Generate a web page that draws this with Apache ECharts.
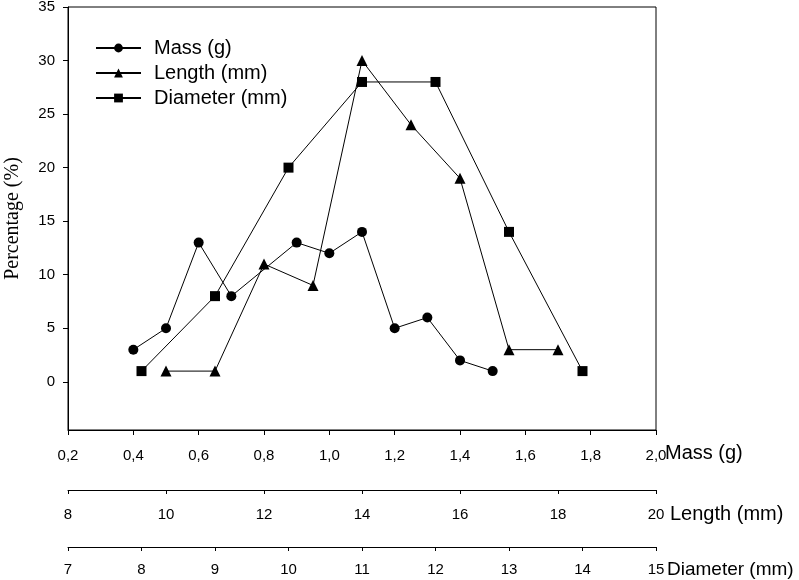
<!DOCTYPE html>
<html>
<head>
<meta charset="utf-8">
<script src="https://cdn.jsdelivr.net/npm/echarts@6/dist/echarts.min.js"></script>
<style>
  html, body { margin: 0; padding: 0; background: #fff; }
  #chart { width: 799px; height: 580px; }
</style>
</head>
<body>
<div id="chart"></div>
<script>
// values
const massX = [0.4, 0.5, 0.6, 0.7, 0.9, 1.0, 1.1, 1.2, 1.3, 1.4, 1.5];
const massPct = [3, 5, 13, 8, 13, 12, 14, 5, 6, 2, 1];

const lengthX = [10, 11, 12, 13, 14, 15, 16, 17, 18];
const lengthPct = [1, 1, 11, 9, 30, 24, 19, 3, 3];

const diameterX = [8, 9, 10, 11, 12, 13, 14];
const diameterPct = [1, 8, 20, 28, 28, 14, 1];

const yTicks = [0, 5, 10, 15, 20, 25, 30, 35];

const FONT = '"Liberation Sans", Arial, sans-serif';
const INK = '#000';

const chart = echarts.init(document.getElementById('chart'));

const pairs = (xs, ys) => xs.map((x, i) => [x, ys[i]]);

const nameStyle = (top, size) => ({
  fontFamily: FONT, fontSize: size || 20, color: INK,
  align: 'left', verticalAlign: 'top', padding: [top, 0, 0, 0]
});

const baseAxis = {
  type: 'value',
  position: 'bottom',
  axisLine: { show: true, onZero: false, lineStyle: { color: INK, width: 1 } },
  axisTick: { show: true, inside: false, length: 5, lineStyle: { color: INK } },
  splitLine: { show: false },
  nameLocation: 'end',
  nameMoveOverlap: false
};

const lineSeries = (name, axis, data, symbol, size) => ({
  name,
  type: 'line',
  xAxisIndex: axis,
  data,
  symbol,
  symbolSize: size,
  showAllSymbol: true,
  lineStyle: { color: INK, width: 1 },
  itemStyle: { color: INK },
  emphasis: { disabled: true },
  animation: false
});

chart.setOption({
  backgroundColor: '#fff',
  animation: false,
  grid: {
    left: 68, right: 143, top: 7, bottom: 150,
    containLabel: false,
    outerBoundsMode: 'none',
    show: true, borderColor: INK, borderWidth: 1, backgroundColor: 'transparent'
  },
  legend: {
    left: 90,
    top: 33,
    orient: 'vertical',
    itemWidth: 45,
    itemHeight: 11,
    itemGap: 5,
    textStyle: { fontFamily: FONT, fontSize: 20, color: INK, lineHeight: 20, padding: [0, 0, 0, 8] },
    data: ['Mass (g)', 'Length (mm)', 'Diameter (mm)']
  },
  xAxis: [
    Object.assign({}, baseAxis, {
      min: 0.2, max: 2.0, interval: 0.2,
      name: 'Mass (g)',
      nameGap: 9,
      nameTextStyle: nameStyle(13),
      axisLabel: {
        fontFamily: FONT, fontSize: 15, color: INK, margin: 18,
        formatter: v => v.toFixed(1).replace('.', ',')
      }
    }),
    Object.assign({}, baseAxis, {
      min: 8, max: 20, interval: 2,
      offset: 60,
      name: 'Length (mm)',
      nameGap: 14,
      nameTextStyle: nameStyle(14),
      axisTick: { show: true, length: 4, lineStyle: { color: INK } },
      axisLabel: { fontFamily: FONT, fontSize: 15, color: INK, margin: 17 }
    }),
    Object.assign({}, baseAxis, {
      min: 7, max: 15, interval: 1,
      offset: 117,
      name: 'Diameter (mm)',
      nameGap: 11,
      nameTextStyle: nameStyle(13, 19),
      axisTick: { show: true, length: 4, lineStyle: { color: INK } },
      axisLabel: { fontFamily: FONT, fontSize: 15, color: INK, margin: 15 }
    })
  ],
  yAxis: {
    type: 'value',
    min: -4.5,
    max: 35,
    name: 'Percentage (%)',
    nameLocation: 'middle',
    nameGap: 45,
    nameTextStyle: { fontFamily: '"Liberation Serif", "Times New Roman", serif', fontSize: 20, color: INK },
    axisLine: { show: true, lineStyle: { color: INK, width: 1 } },
    axisTick: { show: true, length: 5, customValues: yTicks, lineStyle: { color: INK } },
    axisLabel: { fontFamily: FONT, fontSize: 15, color: INK, margin: 13, customValues: yTicks },
    splitLine: { show: false }
  },
  series: [
    lineSeries('Mass (g)', 0, pairs(massX, massPct), 'circle', 10),
    lineSeries('Length (mm)', 1, pairs(lengthX, lengthPct), 'triangle', 11),
    lineSeries('Diameter (mm)', 2, pairs(diameterX, diameterPct), 'rect', 10)
  ]
});
</script>
</body>
</html>
